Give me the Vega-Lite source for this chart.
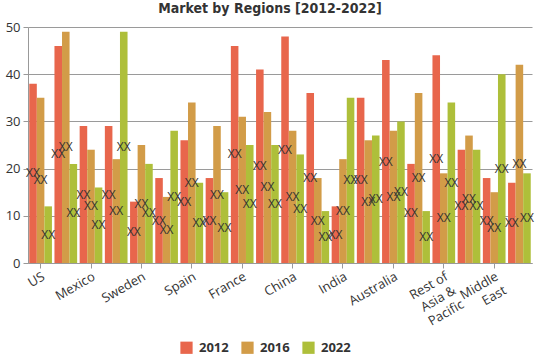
{
  "$schema": "https://vega.github.io/schema/vega-lite/v6.json",
  "width": 504,
  "height": 236,
  "autosize": "none",
  "padding": {"left": 28, "top": 27, "right": 7, "bottom": 96},
  "background": "white",
  "title": {
    "text": "Market by Regions [2012-2022]",
    "font": "'DejaVu Sans Condensed', 'DejaVu Sans', sans-serif",
    "fontSize": 14,
    "fontWeight": "bold",
    "color": "#333333",
    "anchor": "middle",
    "dx": -10,
    "offset": 5
  },
  "data": {
    "values": [
      {"cat": "US", "year": "2012", "v": 38}, {"cat": "US", "year": "2016", "v": 35}, {"cat": "US", "year": "2022", "v": 12},
      {"cat": "c2", "year": "2012", "v": 46}, {"cat": "c2", "year": "2016", "v": 49}, {"cat": "c2", "year": "2022", "v": 21},
      {"cat": "Mexico", "year": "2012", "v": 29}, {"cat": "Mexico", "year": "2016", "v": 24}, {"cat": "Mexico", "year": "2022", "v": 16},
      {"cat": "c4", "year": "2012", "v": 29}, {"cat": "c4", "year": "2016", "v": 22}, {"cat": "c4", "year": "2022", "v": 49},
      {"cat": "Sweden", "year": "2012", "v": 13}, {"cat": "Sweden", "year": "2016", "v": 25}, {"cat": "Sweden", "year": "2022", "v": 21},
      {"cat": "c6", "year": "2012", "v": 18}, {"cat": "c6", "year": "2016", "v": 14}, {"cat": "c6", "year": "2022", "v": 28},
      {"cat": "Spain", "year": "2012", "v": 26}, {"cat": "Spain", "year": "2016", "v": 34}, {"cat": "Spain", "year": "2022", "v": 17},
      {"cat": "c8", "year": "2012", "v": 18}, {"cat": "c8", "year": "2016", "v": 29}, {"cat": "c8", "year": "2022", "v": 15},
      {"cat": "France", "year": "2012", "v": 46}, {"cat": "France", "year": "2016", "v": 31}, {"cat": "France", "year": "2022", "v": 25},
      {"cat": "c10", "year": "2012", "v": 41}, {"cat": "c10", "year": "2016", "v": 32}, {"cat": "c10", "year": "2022", "v": 25},
      {"cat": "China", "year": "2012", "v": 48}, {"cat": "China", "year": "2016", "v": 28}, {"cat": "China", "year": "2022", "v": 23},
      {"cat": "c12", "year": "2012", "v": 36}, {"cat": "c12", "year": "2016", "v": 18}, {"cat": "c12", "year": "2022", "v": 11},
      {"cat": "India", "year": "2012", "v": 12}, {"cat": "India", "year": "2016", "v": 22}, {"cat": "India", "year": "2022", "v": 35},
      {"cat": "c14", "year": "2012", "v": 35}, {"cat": "c14", "year": "2016", "v": 26}, {"cat": "c14", "year": "2022", "v": 27},
      {"cat": "Australia", "year": "2012", "v": 43}, {"cat": "Australia", "year": "2016", "v": 28}, {"cat": "Australia", "year": "2022", "v": 30},
      {"cat": "c16", "year": "2012", "v": 21}, {"cat": "c16", "year": "2016", "v": 36}, {"cat": "c16", "year": "2022", "v": 11},
      {"cat": "Rest of Asia & Pacific", "year": "2012", "v": 44}, {"cat": "Rest of Asia & Pacific", "year": "2016", "v": 19}, {"cat": "Rest of Asia & Pacific", "year": "2022", "v": 34},
      {"cat": "c18", "year": "2012", "v": 24}, {"cat": "c18", "year": "2016", "v": 27}, {"cat": "c18", "year": "2022", "v": 24},
      {"cat": "Middle East", "year": "2012", "v": 18}, {"cat": "Middle East", "year": "2016", "v": 15}, {"cat": "Middle East", "year": "2022", "v": 40},
      {"cat": "c20", "year": "2012", "v": 17}, {"cat": "c20", "year": "2016", "v": 42}, {"cat": "c20", "year": "2022", "v": 19}
    ]
  },
  "encoding": {
    "x": {
      "field": "cat",
      "type": "nominal",
      "sort": null,
      "scale": {"paddingInner": 0.1, "paddingOuter": 0.05},
      "axis": {
        "title": null,
        "values": ["US", "Mexico", "Sweden", "Spain", "France", "China", "India", "Australia", "Rest of Asia & Pacific", "Middle East"],
        "labelExpr": "datum.value == 'Rest of Asia & Pacific' ? ['Rest of', 'Asia &', 'Pacific'] : datum.value == 'Middle East' ? ['Middle', 'East'] : datum.value",
        "labelAngle": -30,
        "labelAlign": "right",
        "labelBaseline": "top",
        "labelFont": "Open Sans",
        "labelFontSize": 13,
        "labelColor": "#333333",
        "labelLineHeight": 16,
        "labelPadding": 2,
        "tickColor": "#999999",
        "tickSize": 5,
        "domainColor": "#999999",
        "grid": false
      }
    },
    "xOffset": {"field": "year", "type": "nominal", "scale": {"paddingInner": 0, "paddingOuter": 0}}
  },
  "layer": [
    {
      "mark": {"type": "bar"},
      "encoding": {
        "y": {
          "field": "v",
          "type": "quantitative",
          "scale": {"domain": [0, 50]},
          "axis": {
            "title": null,
            "values": [0, 10, 20, 30, 40, 50],
            "labelFont": "Open Sans",
            "labelFontSize": 13,
            "labelColor": "#333333",
            "labelPadding": 3,
            "gridColor": "#9a9a9a",
            "gridWidth": 1,
            "domainColor": "#999999",
            "tickColor": "#999999",
            "tickSize": 5
          }
        },
        "color": {
          "field": "year",
          "type": "nominal",
          "scale": {"domain": ["2012", "2016", "2022"], "range": ["#E8664C", "#D29C48", "#AEBF3A"]},
          "legend": {
            "title": null,
            "orient": "none",
            "legendX": 152,
            "legendY": 314,
            "direction": "horizontal",
            "symbolType": "square",
            "symbolSize": 150,
            "symbolStrokeWidth": 0,
            "symbolOpacity": 1,
            "labelFont": "Open Sans",
            "labelFontSize": 13,
            "labelFontWeight": "bold",
            "labelColor": "#333333",
            "labelOffset": 6,
            "columnPadding": 12
          }
        }
      }
    },
    {
      "transform": [{"calculate": "datum.v / 2", "as": "half"}],
      "mark": {"type": "text", "font": "Open Sans", "fontSize": 12, "color": "#333333", "baseline": "middle", "align": "center"},
      "encoding": {
        "y": {"field": "half", "type": "quantitative"},
        "text": {"value": "XX"}
      }
    }
  ],
  "config": {"view": {"stroke": null}}
}
